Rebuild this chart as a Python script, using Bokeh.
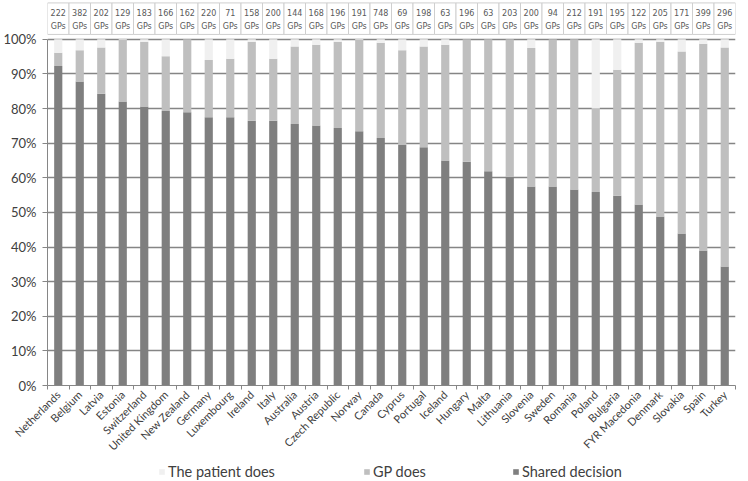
import math
from bokeh.plotting import figure
from bokeh.layouts import column
from bokeh.models import (ColumnDataSource, FixedTicker, PrintfTickFormatter,
                          Legend, LegendItem, Range1d)
from bokeh.embed import file_html
from bokeh.resources import INLINE
from bokeh.core.properties import value

countries = ["Netherlands", "Belgium", "Latvia", "Estonia", "Switzerland",
             "United Kingdom", "New Zealand", "Germany", "Luxembourg", "Ireland",
             "Italy", "Australia", "Austria", "Czech Republic", "Norway", "Canada",
             "Cyprus", "Portugal", "Iceland", "Hungary", "Malta", "Lithuania",
             "Slovenia", "Sweden", "Romania", "Poland", "Bulgaria", "FYR Macedonia",
             "Denmark", "Slovakia", "Spain", "Turkey"]
gp_counts = [222, 382, 202, 129, 183, 166, 162, 220, 71, 158, 200, 144, 168, 196,
             191, 748, 69, 198, 63, 196, 63, 203, 200, 94, 212, 191, 195, 122,
             205, 171, 399, 296]
shared_decision = [92.3, 87.8, 84.3, 82.0, 80.6, 79.3, 78.9, 77.5, 77.5, 76.5,
                   76.5, 75.5, 75.1, 74.4, 73.4, 71.5, 69.5, 68.8, 65.0, 64.6,
                   61.9, 60.3, 57.5, 57.5, 56.6, 55.9, 54.8, 52.3, 48.8, 43.9,
                   39.0, 34.4]
gp_does = [3.8, 9.0, 13.3, 17.8, 18.7, 15.8, 21.1, 16.5, 16.9, 22.8,
           17.9, 22.4, 23.3, 24.9, 26.4, 27.5, 27.3, 29.1, 33.4, 35.4,
           38.1, 39.7, 40.0, 42.5, 43.4, 24.1, 36.4, 46.7, 50.5, 52.6,
           59.7, 63.2]
patient_does = [3.9, 3.2, 2.4, 0.2, 0.7, 4.9, 0.0, 6.0, 5.6, 0.7,
                5.6, 2.1, 1.6, 0.7, 0.2, 1.0, 3.2, 2.1, 1.6, 0.0,
                0.0, 0.0, 2.5, 0.0, 0.0, 20.0, 8.8, 1.0, 0.7, 3.5,
                1.3, 2.4]
series_names = ["The patient does", "GP does", "Shared decision"]
y_ticks = [0, 10, 20, 30, 40, 50, 60, 70, 80, 90, 100]

idx = list(range(len(countries)))
src = ColumnDataSource(dict(
    x=idx, shared=shared_decision, gp=gp_does, patient=patient_does,
    top_label=[str(v) for v in gp_counts], gps=["GPs"] * len(countries),
))

FONT = "Lato"
TXT = "#404040"
stack_cols = ["shared", "gp", "patient"]
stack_colors = ["#7f7f7f", "#bfbfbf", "#f0f0f0"]

p = figure(width=748, height=460, x_range=Range1d(-0.5, len(countries) - 0.5),
           y_range=Range1d(0, 111.2), output_backend="svg", toolbar_location=None,
           min_border_left=47, min_border_right=13, min_border_top=0,
           min_border_bottom=64)
p.outline_line_color = None

p.vbar_stack(stack_cols, x="x", width=0.38, source=src,
             color=stack_colors, line_color=None)

# box row of GP counts on top
p.rect(x="x", y=105.95, width=1, height=9.1, source=src, fill_color="white",
       line_color="#cfcfcf", line_width=1)
p.text(x="x", y=107.6, text="top_label", source=src, text_align="center",
       text_baseline="middle", text_font=value("DejaVu Sans"),
       text_font_size="8px", text_color="#595959")
p.text(x="x", y=103.7, text="gps", source=src, text_align="center",
       text_baseline="middle", text_font=value("DejaVu Sans"),
       text_font_size="8px", text_color="#595959")

# y axis
p.yaxis.ticker = FixedTicker(ticks=y_ticks)
p.yaxis.formatter = PrintfTickFormatter(format="%d%%")
p.yaxis.bounds = (0, 100)
p.yaxis.axis_line_color = "#868686"
p.yaxis.major_tick_line_color = "#868686"
p.yaxis.major_tick_in = 0
p.yaxis.major_tick_out = 5
p.yaxis.minor_tick_line_color = None
p.yaxis.major_label_text_font = FONT
p.yaxis.major_label_text_font_size = "13px"
p.yaxis.major_label_text_color = TXT
p.yaxis.major_label_standoff = 6

p.ygrid.ticker = FixedTicker(ticks=y_ticks)
p.ygrid.grid_line_color = "#858585"
p.ygrid.grid_line_width = 1.5
p.xgrid.visible = False

# x axis
p.xaxis.ticker = FixedTicker(ticks=idx, minor_ticks=[i - 0.5 for i in range(len(countries) + 1)])
p.xaxis.major_label_overrides = {i: c for i, c in zip(idx, countries)}
p.xaxis.major_label_orientation = math.pi / 4
p.xaxis.axis_line_color = "#868686"
p.xaxis.major_tick_line_color = None
p.xaxis.major_tick_in = 0
p.xaxis.major_tick_out = 0
p.xaxis.minor_tick_line_color = "#868686"
p.xaxis.minor_tick_in = 0
p.xaxis.minor_tick_out = 4
p.xaxis.major_label_text_font = FONT
p.xaxis.major_label_text_font_size = "11px"
p.xaxis.major_label_text_color = TXT
p.xaxis.major_label_standoff = 3

# legend strip below (same stacked series, drawn out of view; only the legend shows)
p2 = figure(width=748, height=21, x_range=Range1d(0, 1), y_range=Range1d(500, 501),
            output_backend="svg", toolbar_location=None, min_border=0)
p2.outline_line_color = None
p2.axis.visible = False
p2.grid.visible = False
lrs = p2.vbar_stack(stack_cols, x="x", width=0.38, source=src,
                    color=stack_colors, line_color=None)
legend_renderer = {"Shared decision": lrs[0], "GP does": lrs[1],
                   "The patient does": lrs[2]}
legend_x = {"The patient does": 111, "GP does": 316, "Shared decision": 465}
for name in series_names:
    lg = Legend(items=[LegendItem(label=name, renderers=[legend_renderer[name]])],
                orientation="horizontal", location=(legend_x[name], 1))
    lg.glyph_width = 7
    lg.glyph_height = 7
    lg.label_height = 14
    lg.label_standoff = 3
    lg.label_text_font = FONT
    lg.label_text_font_size = "14.5px"
    lg.label_text_color = TXT
    lg.border_line_color = None
    lg.background_fill_alpha = 0
    lg.padding = 0
    lg.margin = 0
    p2.add_layout(lg, "center")

layout = column(p, p2, spacing=0)
open("out.html", "w").write(file_html(layout, INLINE))
